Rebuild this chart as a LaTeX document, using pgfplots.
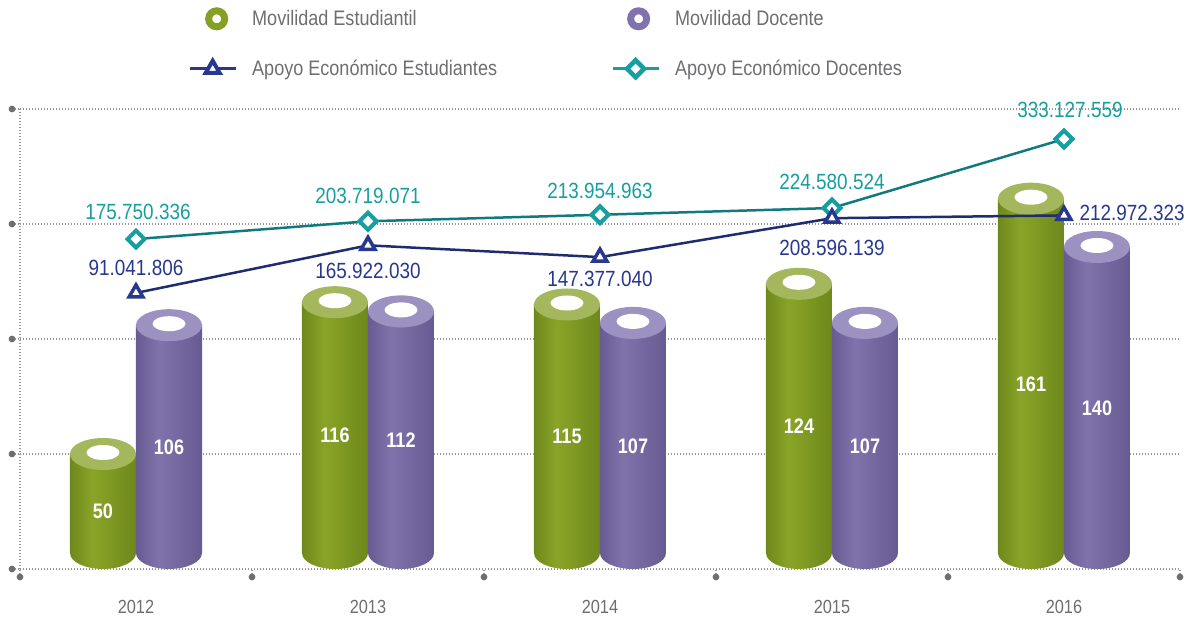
\documentclass[border=0pt]{standalone}
\usepackage{fontspec}
\setmainfont{Liberation Sans}[FakeStretch=0.86]
\usepackage{pgfplots}
\pgfplotsset{compat=1.18}

\definecolor{gE}{RGB}{110,136,28}
\definecolor{gM}{RGB}{138,164,40}
\definecolor{gT}{RGB}{165,183,93}
\definecolor{pE}{RGB}{102,91,146}
\definecolor{pM}{RGB}{128,115,171}
\definecolor{pT}{RGB}{155,146,194}
\definecolor{tealM}{RGB}{22,158,160}
\definecolor{tealL}{RGB}{18,122,126}
\definecolor{navyM}{RGB}{40,56,140}
\definecolor{navyL}{RGB}{30,44,112}
\definecolor{txtgray}{RGB}{110,110,113}
\definecolor{gridc}{RGB}{150,150,150}
\definecolor{dotc}{RGB}{110,110,113}

\pgfdeclarehorizontalshading{gshade}{100bp}{color(0bp)=(gE); color(25bp)=(gE); color(42bp)=(gM); color(75bp)=(gE); color(100bp)=(gE)}
\pgfdeclarehorizontalshading{pshade}{100bp}{color(0bp)=(pE); color(25bp)=(pE); color(42bp)=(pM); color(75bp)=(pE); color(100bp)=(pE)}

\pgfdeclareplotmark{capbotg}{%
  \pgfpathellipse{\pgfpointorigin}{\pgfqpoint{33pt}{0pt}}{\pgfqpoint{0pt}{16pt}}%
  \pgfshadepath{gshade}{0}\pgfusepath{discard}}
\pgfdeclareplotmark{capbotp}{%
  \pgfpathellipse{\pgfpointorigin}{\pgfqpoint{33pt}{0pt}}{\pgfqpoint{0pt}{16pt}}%
  \pgfshadepath{pshade}{0}\pgfusepath{discard}}
\pgfdeclareplotmark{captopg}{%
  \pgfsetfillcolor{gT}%
  \pgfpathellipse{\pgfpointorigin}{\pgfqpoint{33pt}{0pt}}{\pgfqpoint{0pt}{16pt}}\pgfusepath{fill}%
  \pgfsetfillcolor{white}%
  \pgfpathellipse{\pgfqpoint{0pt}{1.5pt}}{\pgfqpoint{16.5pt}{0pt}}{\pgfqpoint{0pt}{7.5pt}}\pgfusepath{fill}}
\pgfdeclareplotmark{captopp}{%
  \pgfsetfillcolor{pT}%
  \pgfpathellipse{\pgfpointorigin}{\pgfqpoint{33pt}{0pt}}{\pgfqpoint{0pt}{16pt}}\pgfusepath{fill}%
  \pgfsetfillcolor{white}%
  \pgfpathellipse{\pgfqpoint{0pt}{1.5pt}}{\pgfqpoint{16.5pt}{0pt}}{\pgfqpoint{0pt}{7.5pt}}\pgfusepath{fill}}

\tikzset{
  dotline/.style={draw=gridc, line width=1.2pt, dash pattern=on 1.2pt off 1.8pt},
  barnum/.style={font=\fontsize{21}{24}\selectfont\bfseries, text=white},
  tlab/.style={font=\fontsize{22}{24}\selectfont, text=tealM},
  nlab/.style={font=\fontsize{22}{24}\selectfont, text=navyM},
}

\begin{document}
\begin{tikzpicture}
\useasboundingbox (-20pt,-51pt) rectangle (1172pt,569pt);
% ---------- bars ----------
\begin{axis}[
  at={(0pt,0pt)}, anchor=south west,
  scale only axis, width=1160pt, height=460pt,
  xmin=-0.5, xmax=4.5, ymin=0, ymax=200,
  clip=false,
  axis x line=bottom, axis y line=left,
  axis line style={-, dotline},
  ymajorgrids, grid style={dotline},
  ytick={0,50,...,200}, yticklabel={\tikz\fill[dotc] (0,0) circle (3.4pt);},
  xtick={-0.5,0.5,...,4.5}, xticklabel={\tikz\fill[dotc] (0,0) circle (3.4pt);},
  yticklabel style={anchor=center, inner sep=0pt},
  xticklabel style={anchor=center, inner sep=0pt},
  tick align=outside, major tick length=8pt,
  tick style={dotline},
  extra x ticks={0,1,2,3,4},
  extra x tick labels={2012,2013,2014,2015,2016},
  extra x tick style={major tick length=0pt, xticklabel style={anchor=center, yshift=-38pt, font=\fontsize{19}{22}\selectfont, text=txtgray}},
]
\addplot[only marks, mark=capbotg, forget plot] coordinates {(-0.14225,6.96) (0.85775,6.96) (1.85775,6.96) (2.85775,6.96) (3.85775,6.96)};
\addplot[only marks, mark=capbotp, forget plot] coordinates {(0.14225,6.96) (1.14225,6.96) (2.14225,6.96) (3.14225,6.96) (4.14225,6.96)};
% green bodies
\addplot[draw=none, shade, shading=gshade, forget plot] coordinates {(-0.2845,6.96) (-0.2845,50) (0,50) (0,6.96)} -- cycle;
\addplot[draw=none, shade, shading=gshade, forget plot] coordinates {(0.7155,6.96) (0.7155,116) (1,116) (1,6.96)} -- cycle;
\addplot[draw=none, shade, shading=gshade, forget plot] coordinates {(1.7155,6.96) (1.7155,115) (2,115) (2,6.96)} -- cycle;
\addplot[draw=none, shade, shading=gshade, forget plot] coordinates {(2.7155,6.96) (2.7155,124) (3,124) (3,6.96)} -- cycle;
\addplot[draw=none, shade, shading=gshade, forget plot] coordinates {(3.7155,6.96) (3.7155,161) (4,161) (4,6.96)} -- cycle;
% purple bodies
\addplot[draw=none, shade, shading=pshade, forget plot] coordinates {(0,6.96) (0,106) (0.2845,106) (0.2845,6.96)} -- cycle;
\addplot[draw=none, shade, shading=pshade, forget plot] coordinates {(1,6.96) (1,112) (1.2845,112) (1.2845,6.96)} -- cycle;
\addplot[draw=none, shade, shading=pshade, forget plot] coordinates {(2,6.96) (2,107) (2.2845,107) (2.2845,6.96)} -- cycle;
\addplot[draw=none, shade, shading=pshade, forget plot] coordinates {(3,6.96) (3,107) (3.2845,107) (3.2845,6.96)} -- cycle;
\addplot[draw=none, shade, shading=pshade, forget plot] coordinates {(4,6.96) (4,140) (4.2845,140) (4.2845,6.96)} -- cycle;
% tops
\addplot[only marks, mark=captopg, forget plot] coordinates {(-0.14225,50) (0.85775,116) (1.85775,115) (2.85775,124) (3.85775,161)};
\addplot[only marks, mark=captopp, forget plot] coordinates {(0.14225,106) (1.14225,112) (2.14225,107) (3.14225,107) (4.14225,140)};
% numbers
\node[barnum] at (axis cs:-0.14225,25) {50};
\node[barnum] at (axis cs:0.85775,58) {116};
\node[barnum] at (axis cs:1.85775,57.5) {115};
\node[barnum] at (axis cs:2.85775,62) {124};
\node[barnum] at (axis cs:3.85775,80.5) {161};
\node[barnum] at (axis cs:0.14225,53) {106};
\node[barnum] at (axis cs:1.14225,56) {112};
\node[barnum] at (axis cs:2.14225,53.5) {107};
\node[barnum] at (axis cs:3.14225,53.5) {107};
\node[barnum] at (axis cs:4.14225,70) {140};
\end{axis}
% ---------- lines ----------
\begin{axis}[
  at={(0pt,0pt)}, anchor=south west,
  scale only axis, width=1160pt, height=460pt,
  xmin=-0.5, xmax=4.5, ymin=-343, ymax=380.3,
  hide axis, clip=false,
  legend columns=2,
  legend cell align=left,
  legend style={at={(0.1448,1.2215)}, anchor=north west, draw=none, fill=none,
    inner sep=0pt, row sep=30pt,
    font=\fontsize{21}{25}\selectfont, text=txtgray,
    nodes={inner sep=0pt},
    /tikz/every odd column/.append style={column sep=15pt},
    /tikz/every even column/.append style={column sep=114pt}},
]
\addlegendimage{legend image code/.code={\path[draw=none] (0pt,0pt) -- (46pt,0pt); \draw[gM!85!gE, line width=7pt, fill=white] (27pt,0pt) circle (8pt);}}
\addlegendentry{Movilidad Estudiantil}
\addlegendimage{legend image code/.code={\path[draw=none] (0pt,0pt) -- (46pt,0pt); \draw[pM, line width=7pt, fill=white] (26pt,0pt) circle (8pt);}}
\addlegendentry{Movilidad Docente}
\addlegendimage{legend image code/.code={\draw[navyM, line width=3pt] (0pt,0pt) -- (46pt,0pt); \draw[navyM, line width=4pt, fill=white] plot[mark=triangle*, mark size=8pt] coordinates {(23pt,0pt)};}}
\addlegendentry{Apoyo Económico Estudiantes}
\addlegendimage{legend image code/.code={\draw[tealM, line width=3pt] (0pt,0pt) -- (46pt,0pt); \draw[tealM, line width=4.5pt, fill=white] plot[mark=square*, mark size=6pt, mark options={rotate=45}] coordinates {(23pt,0pt)};}}
\addlegendentry{Apoyo Económico Docentes}

\addplot[tealL, line width=2.5pt, mark=square*, mark size=6pt,
  mark options={rotate=45, draw=tealM, fill=white, line width=4pt}, forget plot]
  coordinates {(0,175.750336) (1,203.719071) (2,213.954963) (3,224.580524) (4,333.127559)};
\addplot[navyL, line width=2.5pt, mark=triangle*, mark size=8pt,
  mark options={draw=navyM, fill=white, line width=3.5pt}, forget plot]
  coordinates {(0,91.041806) (1,165.922030) (2,147.377040) (3,208.596139) (4,212.972323)};

\node[tlab] at (axis cs:0,175.750336) [yshift=27pt, xshift=2pt] {175.750.336};
\node[tlab] at (axis cs:1,203.719071) [yshift=25pt] {203.719.071};
\node[tlab] at (axis cs:2,213.954963) [yshift=24pt] {213.954.963};
\node[tlab] at (axis cs:3,224.580524) [yshift=26pt] {224.580.524};
\node[tlab] at (axis cs:4,333.127559) [yshift=29pt, xshift=6pt] {333.127.559};
\node[nlab] at (axis cs:0,91.041806) [yshift=25pt] {91.041.806};
\node[nlab] at (axis cs:1,165.922030) [yshift=-26pt] {165.922.030};
\node[nlab] at (axis cs:2,147.377040) [yshift=-22pt] {147.377.040};
\node[nlab] at (axis cs:3,208.596139) [yshift=-30pt] {208.596.139};
\node[nlab, anchor=west] at (axis cs:4,212.972323) [xshift=12pt, yshift=2pt] {212.972.323};
\end{axis}
\end{tikzpicture}
\end{document}
